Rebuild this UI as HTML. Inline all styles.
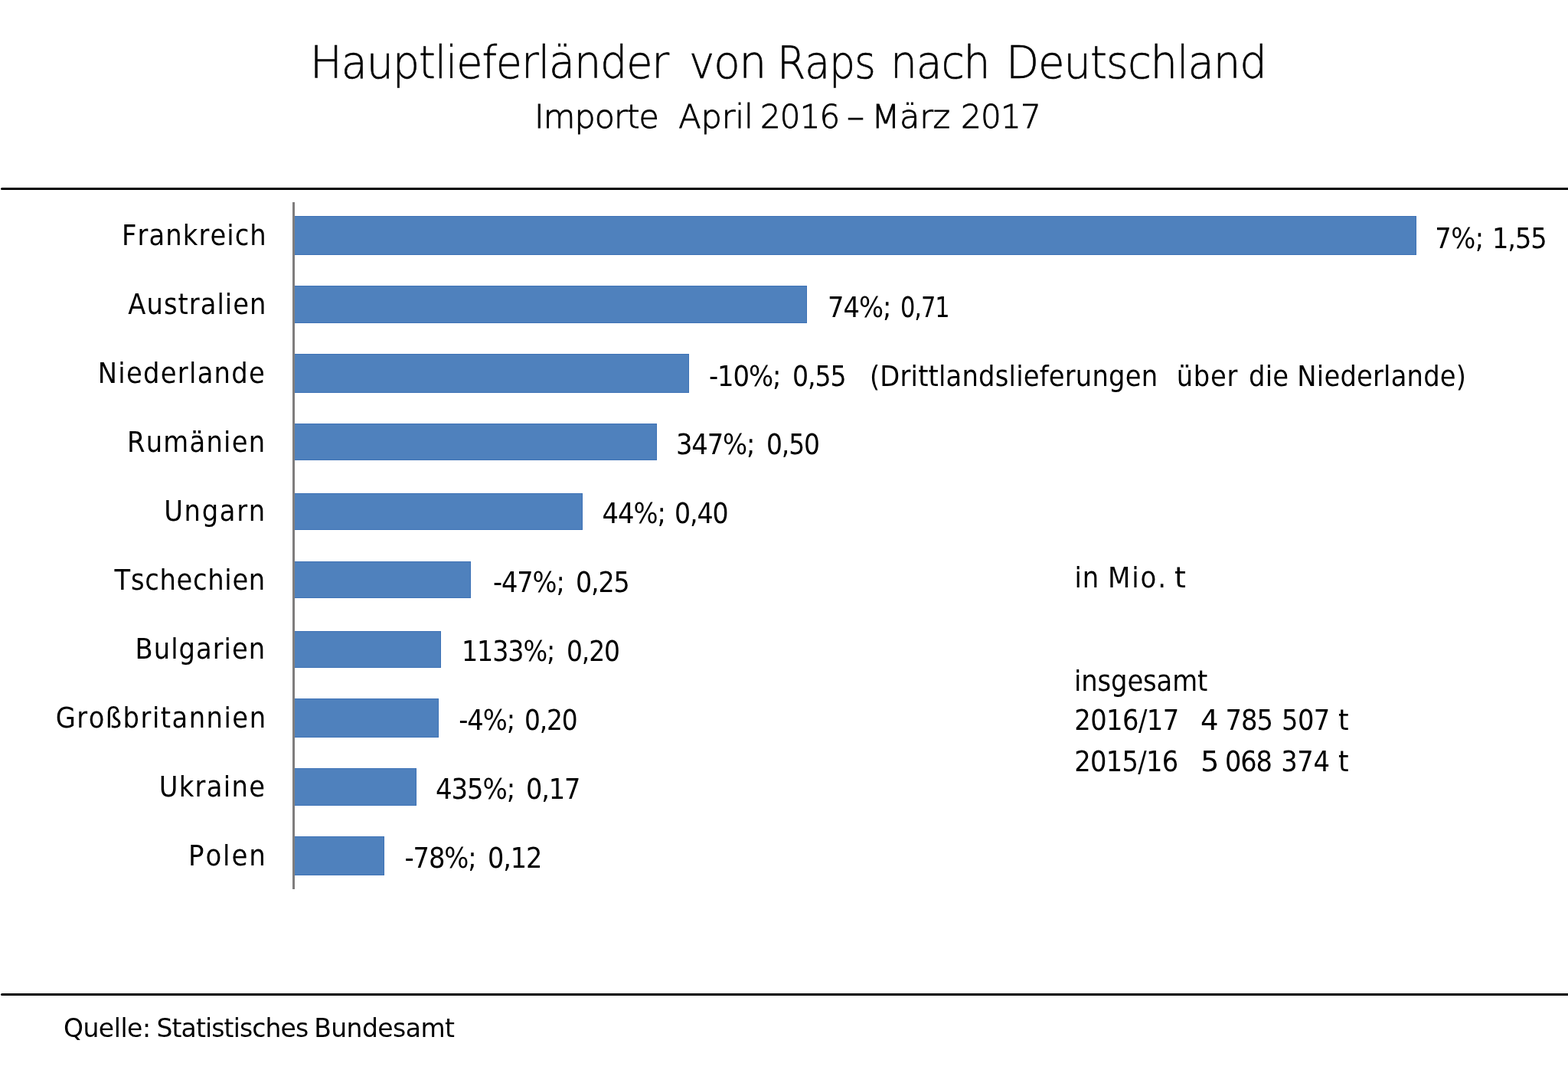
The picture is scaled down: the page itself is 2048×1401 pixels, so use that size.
<!DOCTYPE html>
<html lang="de">
<head>
<meta charset="utf-8">
<title>Hauptlieferländer von Raps nach Deutschland</title>
<style>
html,body{margin:0;padding:0}
body{width:2048px;height:1401px;background:#fff;position:relative;overflow:hidden;font-family:"DejaVu Sans", "Liberation Sans", sans-serif;color:#000}
.chart{position:absolute;left:0;top:0;width:2048px;height:1401px;overflow:hidden}
h1,h2,p,ul,li{margin:0;padding:0;font-weight:normal;font-size:0;list-style:none}
.w,.rule,.axis,.bar{position:absolute}
.w{line-height:1;white-space:pre;font-kerning:none;transform-origin:0 0}
.rule{left:1.4px;right:0;background:#000;border-radius:1.5px 0 0 1.5px}
.axis{background:#7f7d7d}
.bar{background:#4f81bd;box-sizing:border-box;border:1px solid #3e72b6;border-left:0}
.lt{font-family:"DejaVu Sans Light", "DejaVu Sans", "Liberation Sans", sans-serif;font-weight:200;-webkit-text-stroke:0.6px #000}
.ls{font-family:"DejaVu Sans Light", "DejaVu Sans", "Liberation Sans", sans-serif;font-weight:200;-webkit-text-stroke:0.9px #000}
.c{font-family:"DejaVu Sans Condensed", "DejaVu Sans", "Liberation Sans", sans-serif;font-stretch:condensed}
</style>
</head>
<body>
<main class="chart">
<header>
<h1><span class="w lt" style="left:405px;top:53px;font-size:58px;letter-spacing:-1.16px;transform:scaleX(0.9585)">Hauptlieferländer</span> <span class="w lt" style="left:900px;top:53px;font-size:58px;letter-spacing:-1.16px;transform:scaleX(0.9709)">von</span> <span class="w lt" style="left:1015.2px;top:53px;font-size:58px;letter-spacing:-1.16px;transform:scaleX(0.9259)">Raps</span> <span class="w lt" style="left:1163.21px;top:53px;font-size:58px;letter-spacing:-1.16px;transform:scaleX(0.9495)">nach</span> <span class="w lt" style="left:1314px;top:53px;font-size:58px;letter-spacing:-1.16px;transform:scaleX(0.9672)">Deutschland</span></h1>
<h2><span class="w ls" style="left:698.05px;top:131px;font-size:43px;letter-spacing:-0.86px;transform:scaleX(0.9927)">Importe</span> <span class="w ls" style="left:886.33px;top:131px;font-size:43px;letter-spacing:-0.156px">April</span> <span class="w ls" style="left:992.8px;top:131px;font-size:43px;letter-spacing:-0.86px;transform:scaleX(0.9742)">2016</span> <span class="w ls" style="left:1105.85px;top:131px;font-size:43px;transform:scaleX(1.0711)">–</span> <span class="w ls" style="left:1138.14px;top:131px;font-size:43px;letter-spacing:-0.214px">März</span> <span class="w ls" style="left:1255.47px;top:131px;font-size:43px;letter-spacing:-0.86px;transform:scaleX(0.9807)">2017</span></h2>
</header>
<div class="rule" style="top:244.9px;height:3.1px"></div>
<section>
<ul>
<li><span class="w c" style="left:159.09px;top:289px;font-size:37.5px;letter-spacing:1.095px">Frankreich</span>
<div class="bar" style="left:384.3px;top:282.2px;width:1465.4px;height:50.9px"></div>
<span class="w c" style="left:1874.24px;top:293px;font-size:37.5px;letter-spacing:-0.518px">7%;</span> <span class="w c" style="left:1949.15px;top:293px;font-size:37.5px;letter-spacing:-1.125px;transform:scaleX(0.9993)">1,55</span></li>
<li><span class="w c" style="left:167.33px;top:379px;font-size:37.5px;letter-spacing:1.052px">Australien</span>
<div class="bar" style="left:384.3px;top:373.4px;width:670.1px;height:48.2px"></div>
<span class="w c" style="left:1081.01px;top:383px;font-size:37.5px;letter-spacing:-0.975px">74%;</span> <span class="w c" style="left:1175.8px;top:383px;font-size:37.5px;letter-spacing:-1.125px;transform:scaleX(0.9021)">0,71</span></li>
<li><span class="w c" style="left:127.83px;top:469px;font-size:37.5px;letter-spacing:1.291px">Niederlande</span>
<div class="bar" style="left:384.3px;top:461.9px;width:516.2px;height:51.1px"></div>
<span class="w c" style="left:926.21px;top:473px;font-size:37.5px;letter-spacing:-1.125px;transform:scaleX(1.0036)">-10%;</span> <span class="w c" style="left:1035px;top:473px;font-size:37.5px;letter-spacing:-1.125px;transform:scaleX(0.9829)">0,55</span> <span class="w c" style="left:1135.88px;top:473px;font-size:37.5px;letter-spacing:0.218px">(Drittlandslieferungen</span> <span class="w c" style="left:1536.63px;top:473px;font-size:37.5px;letter-spacing:0.771px">über</span> <span class="w c" style="left:1630.91px;top:473px;font-size:37.5px;letter-spacing:0.296px">die</span> <span class="w c" style="left:1694.36px;top:473px;font-size:37.5px;letter-spacing:0.218px">Niederlande)</span></li>
<li><span class="w c" style="left:166px;top:559px;font-size:37.5px;letter-spacing:1.257px">Rumänien</span>
<div class="bar" style="left:384.3px;top:552.9px;width:473.5px;height:48.6px"></div>
<span class="w c" style="left:883.23px;top:562px;font-size:37.5px;letter-spacing:-1.125px;transform:scaleX(1.0018)">347%;</span> <span class="w c" style="left:1001.3px;top:562px;font-size:37.5px;letter-spacing:-1.125px;transform:scaleX(0.976)">0,50</span></li>
<li><span class="w c" style="left:214.13px;top:649px;font-size:37.5px;letter-spacing:1.713px">Ungarn</span>
<div class="bar" style="left:384.3px;top:644px;width:376.6px;height:48.4px"></div>
<span class="w c" style="left:786.47px;top:652px;font-size:37.5px;letter-spacing:-0.966px">44%;</span> <span class="w c" style="left:880.9px;top:652px;font-size:37.5px;letter-spacing:-1.125px;transform:scaleX(0.9833)">0,40</span></li>
<li><span class="w c" style="left:149.6px;top:739px;font-size:37.5px;letter-spacing:0.7px">Tschechien</span>
<div class="bar" style="left:384.3px;top:732.5px;width:231.2px;height:48.1px"></div>
<span class="w c" style="left:644.46px;top:742px;font-size:37.5px;letter-spacing:-1.125px;transform:scaleX(0.9974)">-47%;</span> <span class="w c" style="left:752.2px;top:742px;font-size:37.5px;letter-spacing:-1.125px;transform:scaleX(0.9874)">0,25</span></li>
<li><span class="w c" style="left:176.6px;top:829px;font-size:37.5px;letter-spacing:1.009px">Bulgarien</span>
<div class="bar" style="left:384.3px;top:823.6px;width:191.3px;height:48.4px"></div>
<span class="w c" style="left:602.65px;top:832px;font-size:37.5px;letter-spacing:-1.125px;transform:scaleX(0.9895)">1133%;</span> <span class="w c" style="left:739.61px;top:832px;font-size:37.5px;letter-spacing:-1.125px;transform:scaleX(0.9759)">0,20</span></li>
<li><span class="w c" style="left:72.65px;top:919px;font-size:37.5px;letter-spacing:1.51px">Großbritannien</span>
<div class="bar" style="left:384.3px;top:912.1px;width:188.6px;height:51.1px"></div>
<span class="w c" style="left:599.16px;top:922px;font-size:37.5px;letter-spacing:-1.03px">-4%;</span> <span class="w c" style="left:685px;top:922px;font-size:37.5px;letter-spacing:-1.125px;transform:scaleX(0.9724)">0,20</span></li>
<li><span class="w c" style="left:207.63px;top:1009px;font-size:37.5px;letter-spacing:1.342px">Ukraine</span>
<div class="bar" style="left:384.3px;top:1003.1px;width:159.8px;height:48.6px"></div>
<span class="w c" style="left:568.76px;top:1012px;font-size:37.5px;letter-spacing:-1.125px;transform:scaleX(1.0078)">435%;</span> <span class="w c" style="left:686.7px;top:1012px;font-size:37.5px;letter-spacing:-1.125px;transform:scaleX(0.9958)">0,17</span></li>
<li><span class="w c" style="left:245.8px;top:1099px;font-size:37.5px;letter-spacing:1.875px;transform:scaleX(1.0074)">Polen</span>
<div class="bar" style="left:384.3px;top:1091.5px;width:117.4px;height:51.5px"></div>
<span class="w c" style="left:528.51px;top:1102px;font-size:37.5px;letter-spacing:-1.101px">-78%;</span> <span class="w c" style="left:636.61px;top:1102px;font-size:37.5px;letter-spacing:-1.125px;transform:scaleX(0.9935)">0,12</span></li>
</ul>
<div class="axis" style="left:382.1px;top:264px;width:2.5px;height:897px"></div>
</section>
<aside>
<p><span class="w c" style="left:1403.62px;top:736px;font-size:37.5px;letter-spacing:0.824px">in</span> <span class="w c" style="left:1446.5px;top:736px;font-size:37.5px;letter-spacing:1.875px;transform:scaleX(1.0084)">Mio.</span> <span class="w c" style="left:1533.53px;top:736px;font-size:37.5px;transform:scaleX(1.1254)">t</span></p>
<p><span class="w c" style="left:1403px;top:871px;font-size:37.5px;letter-spacing:-0.086px">insgesamt</span></p>
<p><span class="w c" style="left:1403.23px;top:922px;font-size:37.5px;letter-spacing:-0.522px">2016/17</span> <span class="w c" style="left:1567.99px;top:922px;font-size:37.5px;transform:scaleX(1.0944)">4</span> <span class="w c" style="left:1600.44px;top:922px;font-size:37.5px;letter-spacing:-0.899px">785</span> <span class="w c" style="left:1674.11px;top:922px;font-size:37.5px;letter-spacing:-0.645px">507</span> <span class="w c" style="left:1748.23px;top:922px;font-size:37.5px;transform:scaleX(1.0247)">t</span></p>
<p><span class="w c" style="left:1403.23px;top:976px;font-size:37.5px;letter-spacing:-0.689px">2015/16</span> <span class="w c" style="left:1567.74px;top:976px;font-size:37.5px;transform:scaleX(1.1384)">5</span> <span class="w c" style="left:1600.26px;top:976px;font-size:37.5px;letter-spacing:-1.125px;transform:scaleX(0.9947)">068</span> <span class="w c" style="left:1673.14px;top:976px;font-size:37.5px;letter-spacing:-0.225px">374</span> <span class="w c" style="left:1748.23px;top:976px;font-size:37.5px;transform:scaleX(1.0247)">t</span></p>
</aside>
<div class="rule" style="top:1296.6px;height:3.3px"></div>
<footer><p><span class="w" style="left:82.92px;top:1326px;font-size:33px;letter-spacing:-0.473px">Quelle:</span> <span class="w" style="left:204.51px;top:1326px;font-size:33px;letter-spacing:-0.883px">Statistisches</span> <span class="w" style="left:410.16px;top:1326px;font-size:33px;letter-spacing:-0.558px">Bundesamt</span></p></footer>
</main>
</body>
</html>
